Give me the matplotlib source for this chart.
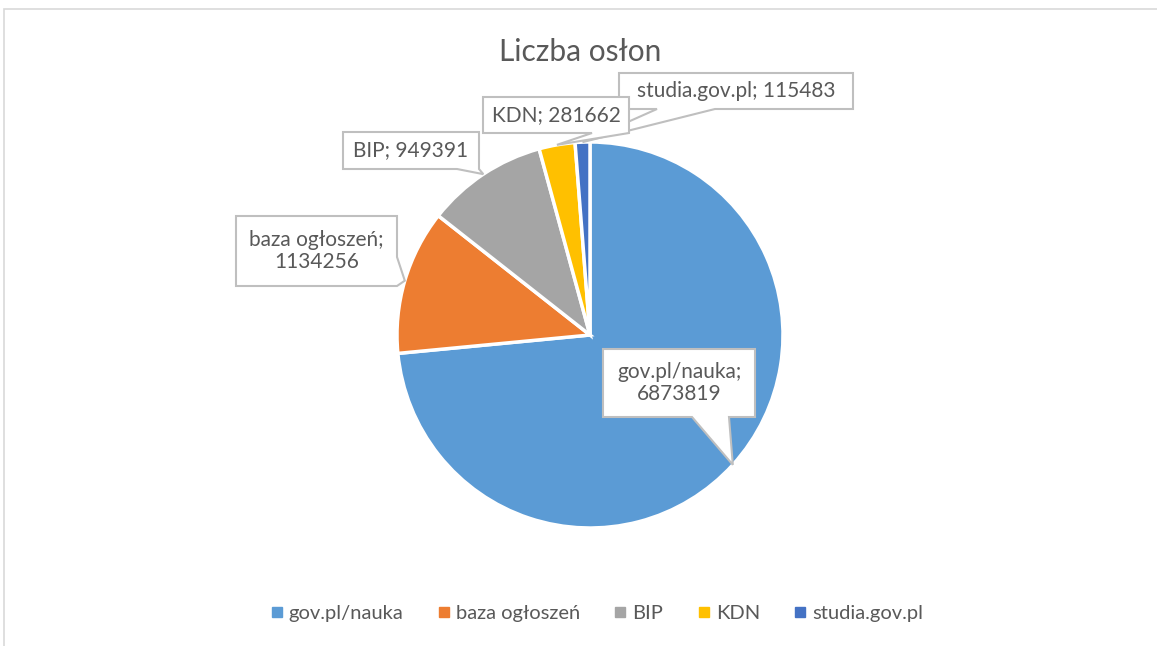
import numpy as np
import matplotlib
matplotlib.use("Agg")
import matplotlib.pyplot as plt
from matplotlib.patches import Polygon, Rectangle
from matplotlib.lines import Line2D

plt.rcParams['font.family'] = ['Lato', 'DejaVu Sans']

# ---- data ----
categories = ["gov.pl/nauka", "baza ogłoszeń", "BIP", "KDN", "studia.gov.pl"]
values = [6873819, 1134256, 949391, 281662, 115483]
label_texts = ["gov.pl/nauka;\n6873819", "baza ogłoszeń;\n1134256", "BIP; 949391",
               "KDN; 281662", "studia.gov.pl; 115483"]
colors = ["#5B9BD5", "#ED7D31", "#A5A5A5", "#FFC000", "#4472C4"]
title = "Liczba osłon"

# ---- layout (pixel coordinates, origin top-left) ----
W, H = 1157, 646
CX, CY, R = 590, 335, 193
# box: x0, y0, x1, y1 ; pointer edge and base range along that edge
boxes = [
    ((603, 349, 755, 417), 'bottom', (692, 729)),
    ((236, 216, 397, 286), 'right', (257, 286)),
    ((343, 132, 479, 169), 'bottom', (457, 479)),
    ((483, 97, 629, 133), 'bottom', (592, 629)),
    ((619, 73, 853, 109), 'bottom', (657, 715)),
]
draw_order = [0, 1, 2, 4, 3]

TXT = "#595959"
EDGE = "#BFBFBF"

fig = plt.figure(figsize=(W / 100, H / 100), dpi=100)
ax = fig.add_axes([0, 0, 1, 1])

def py(y):
    return H - y

wedges, _ = ax.pie(values, colors=colors, startangle=90, counterclock=False,
                   center=(CX, py(CY)), radius=R,
                   wedgeprops=dict(edgecolor='white', linewidth=2.5))
ax.set_xlim(0, W)
ax.set_ylim(0, H)
ax.set_aspect('equal')
ax.axis('off')

for k, i in enumerate(draw_order):
    w = wedges[i]
    th = np.deg2rad((w.theta1 + w.theta2) / 2)
    tip = (CX + R * np.cos(th), py(CY) + R * np.sin(th))
    (x0, y0, x1, y1), edge, (b1, b2) = boxes[i]
    if edge == 'bottom':
        verts = [(x0, py(y0)), (x1, py(y0)), (x1, py(y1)), (b2, py(y1)), tip,
                 (b1, py(y1)), (x0, py(y1))]
    else:
        verts = [(x0, py(y0)), (x1, py(y0)), (x1, py(b1)), tip, (x1, py(b2)),
                 (x1, py(y1)), (x0, py(y1))]
    z = 5 + 2 * k
    ax.add_patch(Polygon(verts, closed=True, facecolor='white', edgecolor=EDGE,
                         linewidth=1.5, zorder=z, joinstyle='miter'))
    ax.text((x0 + x1) / 2, py((y0 + y1) / 2), label_texts[i], ha='center', va='center',
            fontsize=15, color=TXT, zorder=z + 1, linespacing=1.15)

ax.text(580, py(52), title, ha='center', va='center', fontsize=21.5, color=TXT)

# chart frame (right and bottom edges lie outside the image)
fig.patches.append(Rectangle((3.5 / W, -0.1), 1.2, 1.1 - 9.5 / H, transform=fig.transFigure,
                             fill=False, edgecolor='#D9D9D9', linewidth=1.2))

handles = [Line2D([], [], marker='s', ls='', color=c, markersize=6.5) for c in colors]
fig.legend(handles, categories, loc='center', bbox_to_anchor=(595 / W, 1 - 613 / H),
           ncol=5, frameon=False, fontsize=14.5, handletextpad=0.1, columnspacing=1.5,
           handlelength=1.0, labelcolor=TXT)

fig.savefig("out.png", dpi=100)
